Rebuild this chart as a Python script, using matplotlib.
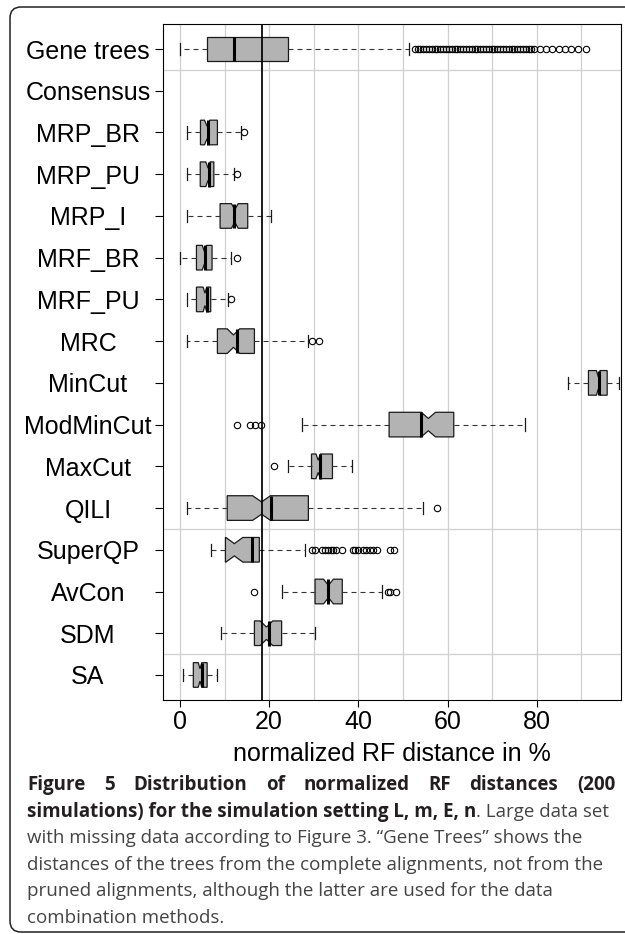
import numpy as np
import matplotlib
matplotlib.use("Agg")
import matplotlib.pyplot as plt
from matplotlib.patches import FancyBboxPatch

# ---------------- data ----------------
methods = ["Gene trees", "Consensus", "MRP_BR", "MRP_PU", "MRP_I", "MRF_BR",
           "MRF_PU", "MRC", "MinCut", "ModMinCut", "MaxCut", "QILI",
           "SuperQP", "AvCon", "SDM", "SA"]
nan = np.nan
q1 = [6.05, nan, 4.6, 4.55, 9.0, 3.7, 3.7, 8.4, 91.6, 46.9, 29.5, 10.6, 10.2, 30.3, 16.7, 3.0]
q3 = [24.3, nan, 8.4, 7.6, 15.2, 7.2, 6.9, 16.7, 95.8, 61.4, 34.2, 28.8, 17.8, 36.4, 22.8, 6.1]
median_line = [12.2, nan, 6.35, 6.6, 12.1, 5.6, 6.0, 12.85, 93.9, 54.0, 31.5, 20.4, 16.1, 33.3, 20.0, 4.9]
notch_mid = [12.2, nan, 6.1, 6.3, 12.3, 5.5, 5.6, 12.0, 93.8, 55.7, 31.0, 18.3, 12.2, 33.3, 19.4, 4.5]
notch_half = [0.0, nan, 0.6, 0.5, 0.75, 0.5, 0.4, 1.4, 0.4, 1.6, 0.5, 2.0, 1.9, 1.1, 1.4, 0.4]
whislo = [0.0, nan, 1.5, 1.5, 1.5, 0.0, 1.5, 1.5, 87.1, 27.3, 24.3, 1.5, 6.9, 22.8, 9.1, 0.75]
whishi = [51.4, nan, 13.7, 12.1, 20.4, 11.4, 10.7, 28.8, 98.5, 77.4, 38.6, 54.6, 28.0, 45.4, 30.3, 8.4]
outliers = [
    [52.7, 53.3, 53.9, 54.6, 55.2, 55.9, 56.5, 57.1, 57.7, 58.4, 59.0, 59.7,
     60.4, 61.0, 61.6, 62.2, 62.8, 63.5, 64.2, 64.8, 65.4, 66.1, 66.7, 67.3,
     68.0, 68.6, 69.3, 69.9, 70.5, 71.2, 71.8, 72.4, 73.1, 73.7, 74.4, 75.0,
     75.6, 76.3, 76.9, 77.5, 78.2, 78.8, 79.5, 80.8, 82.1, 83.5, 84.9, 86.3,
     87.7, 89.2, 91.0],
    [],
    [14.4],
    [12.85],
    [],
    [12.85],
    [11.4],
    [29.7, 31.2],
    [],
    [12.85, 15.7, 16.8, 18.2],
    [21.2],
    [57.6],
    [29.5, 30.3, 31.8, 32.5, 33.3, 33.8, 34.4, 35.0, 36.3, 38.7, 39.3, 40.0,
     41.1, 41.8, 42.6, 43.4, 44.1, 47.0, 48.0],
    [16.6, 46.6, 47.0, 48.5],
    [],
    [],
]
ref_value = 18.5
group_breaks = [1.5, 12.5, 15.5]
x_ticks = [0, 20, 40, 60, 80]
x_grid = [0, 10, 20, 30, 40, 50, 60, 70, 80, 90]
x_label = "normalized RF distance in %"

caption_line1 = "Figure 5 Distribution of normalized RF distances (200"
caption_line2_bold = "simulations) for the simulation setting L, m, E, n"
caption_line2_rest = ". Large data set"
caption_rest = [
    "with missing data according to Figure 3. \u201cGene Trees\u201d shows the",
    "distances of the trees from the complete alignments, not from the",
    "pruned alignments, although the latter are used for the data",
    "combination methods.",
]

# ---------------- figure ----------------
W, H = 625, 934
DPI = 100
fig = plt.figure(figsize=(W / DPI, H / DPI), dpi=DPI)
fig.patch.set_facecolor("white")

ax = fig.add_axes([163 / W, 1 - 700 / H, (621 - 163) / W, (700 - 24) / H])

positions = np.arange(1, len(methods) + 1)
st_notch, pos_notch, st_plain, pos_plain = [], [], [], []
for i, name in enumerate(methods):
    if np.isnan(q1[i]):
        continue
    s = dict(label=name, q1=q1[i], q3=q3[i], med=notch_mid[i], mean=median_line[i],
             whislo=whislo[i], whishi=whishi[i], fliers=np.array(outliers[i]),
             cilo=notch_mid[i] - notch_half[i], cihi=notch_mid[i] + notch_half[i])
    if notch_half[i] > 0:
        st_notch.append(s)
        pos_notch.append(positions[i])
    else:
        st_plain.append(s)
        pos_plain.append(positions[i])

common = dict(
    widths=0.59, orientation="horizontal", manage_ticks=False, patch_artist=True,
    boxprops=dict(facecolor="#b3b3b3", edgecolor="#1a1a1a", linewidth=0.9),
    whiskerprops=dict(color="#333333", linewidth=0.8, linestyle=(0, (4.5, 3.6))),
    capprops=dict(color="#1a1a1a", linewidth=0.9),
    flierprops=dict(marker="o", markerfacecolor="none", markeredgecolor="black",
                    markersize=4.6, markeredgewidth=0.8, linestyle="none"),
    medianprops=dict(linewidth=0),
    showmeans=True, meanline=True,
    meanprops=dict(color="black", linewidth=2.2, linestyle="-", solid_capstyle="butt"),
    zorder=2,
)
ax.bxp(st_notch, positions=pos_notch, shownotches=True, **common)
ax.bxp(st_plain, positions=pos_plain, shownotches=False, **common)

ax.axvline(ref_value, color="black", linewidth=1.25, zorder=3)

# grid
for gx in x_grid:
    ax.axvline(gx, color="#cfcfcf", linewidth=0.9, zorder=0.5)
for gy in group_breaks:
    ax.axhline(gy, color="#cfcfcf", linewidth=0.9, zorder=0.5)

ax.set_xlim(-3.8, 98.9)
ax.set_ylim(16.6, 0.4)

ax.set_xticks(x_ticks)
ax.set_xticklabels([str(t) for t in x_ticks], fontsize=18, family="Liberation Sans")
ax.set_yticks(positions)
ax.set_yticklabels(methods, fontsize=18, family="Liberation Sans")
tick_len_y = 8 * 72 / DPI
ax.tick_params(axis="y", length=tick_len_y, width=0.8, pad=(163 - 88) * 72 / DPI - tick_len_y)
ax.tick_params(axis="x", length=5.0, width=0.8, pad=2)
for lab in ax.get_yticklabels():
    lab.set_horizontalalignment("center")
ax.set_xlabel(x_label, fontsize=18, family="Liberation Sans", labelpad=6)
for sp in ax.spines.values():
    sp.set_linewidth(0.8)
    sp.set_color("black")

# ---------------- frame + caption ----------------
ov = fig.add_axes([0, 0, 1, 1], zorder=-1)
ov.set_xlim(0, W)
ov.set_ylim(H, 0)
ov.axis("off")
ov.add_patch(FancyBboxPatch((10, 7), 650, 925, boxstyle="round,pad=0,rounding_size=11",
                            fill=False, edgecolor="#222222", linewidth=1.1))

cap_font = "Open Sans"
cap_size = 13.5
bold_col = "#231f20"
reg_col = "#444444"
x_left, x_right = 27, 615
baselines = [790, 816.6, 843.2, 869.8, 896.4, 923]
renderer = fig.canvas.get_renderer()

words = caption_line1.split()
tw = []
for w in words:
    t = ov.text(0, baselines[0], w, fontsize=cap_size, family=cap_font, weight="bold",
                color=bold_col, va="baseline", ha="left")
    tw.append((t, t.get_window_extent(renderer).width))
gap = ((x_right - x_left) - sum(w for _, w in tw)) / (len(tw) - 1)
xc = x_left
for t, w in tw:
    t.set_x(xc)
    xc += w + gap

t2 = ov.text(x_left, baselines[1], caption_line2_bold, fontsize=cap_size, family=cap_font,
             weight="bold", color=bold_col, va="baseline", ha="left")
w2 = t2.get_window_extent(renderer).width
ov.text(x_left + w2, baselines[1], caption_line2_rest, fontsize=cap_size, family=cap_font,
        color=reg_col, va="baseline", ha="left")
for k, line in enumerate(caption_rest):
    ov.text(x_left, baselines[2 + k], line, fontsize=cap_size, family=cap_font,
            color=reg_col, va="baseline", ha="left")

fig.savefig("out.png", dpi=DPI)
